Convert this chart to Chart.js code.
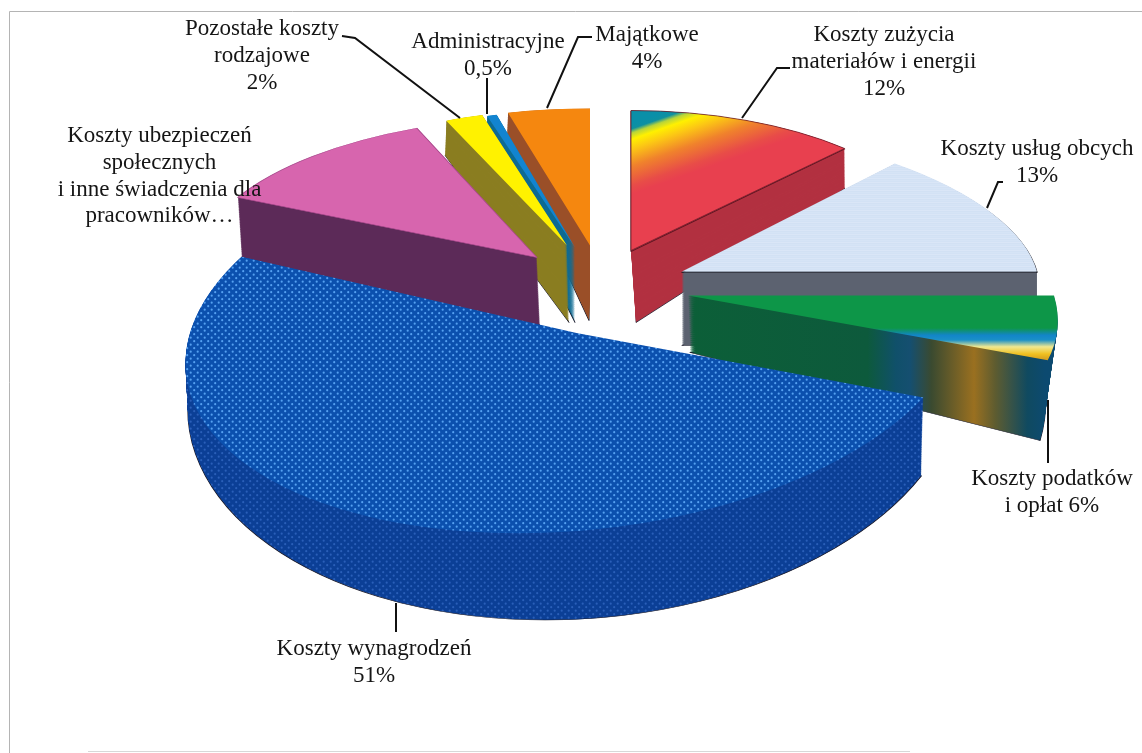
<!DOCTYPE html>
<html>
<head>
  <meta charset="utf-8">
  <title>Struktura kosztów</title>
  <style>
    html, body { margin: 0; background: #fff; }
    canvas { display: block; }
  </style>
</head>
<body>
<canvas id="myChart" width="1142" height="753"></canvas>
<script src="https://cdn.jsdelivr.net/npm/chart.js@4"></script>
<script>
  // clockwise from 12 o'clock
  const categories = ['Koszty zużycia materiałów i energii', 'Koszty usług obcych', 'Koszty podatków i opłat',
    'Koszty wynagrodzeń', 'Koszty ubezpieczeń społecznych i inne świadczenia dla pracowników',
    'Pozostałe koszty rodzajowe', 'Administracyjne', 'Majątkowe'];
  const shares = [12, 13, 6, 51, 11.5, 2, 0.5, 4];
  const baseColors = ['#e8404f', '#d5e3f5', '#0d9648', '#0b50ae', '#d765ae', '#fff200', '#1284d0', '#f5870f'];

  // fake 3D: how far each slice is pulled from the pie centre and how wide/tall it is drawn,
  // for its top face and for its bottom face
  const topShiftX = [60, 111, 117, 5.5, -34, -4, 4, 19];
  const topShiftY = [-126, -105, -81, -43.5, -119, -131, -129, -131];
  const topWidth = [312, 355, 366, 389, 338, 304, 315, 330];
  const topHeight = [140, 148, 176, 200, 141, 136, 137, 137];
  const topSkew = [0, 0.28, 0.3, -0.2, -0.109, 0, 0, 0];
  const topTilt = [0, 0, 0, -0.025, 0, 0, 0, 0];
  const bottomShiftX = [65, 111, 119, 3, -31, -2, 4, 18];
  const bottomShiftY = [-54, -31, -24, 15.5, -51, -54, -54, -56];
  const bottomWidth = [305, 355, 349, 385, 338, 312, 315, 330];
  const bottomHeight = [184, 148, 239, 228, 160, 182, 182, 182];
  const bottomSkew = [0, 0.28, 0.29, -0.126, -0.109, 0, 0, 0];
  const drawOrder = [7, 6, 5, 4, 0, 1, 2, 3];
  const lowerEdge = ['#5a1420', '#15151c', null, null, null, null, null, null];
  const topEdge = ['#6a1a28', null, null, null, '#a8488c', null, null, null];

  // text blocks, centred on x, first baseline y
  const labelLines = [
    ['Koszty zużycia', 'materiałów i energii', '12%'],
    ['Koszty usług obcych', '13%'],
    ['Koszty podatków', 'i opłat 6%'],
    ['Koszty wynagrodzeń', '51%'],
    ['Koszty ubezpieczeń', 'społecznych', 'i inne świadczenia dla', 'pracowników…'],
    ['Pozostałe koszty', 'rodzajowe', '2%'],
    ['Administracyjne', '0,5%'],
    ['Majątkowe', '4%']
  ];
  const labelX = [884, 1037, 1052, 374, 159.5, 262, 488, 647];
  const labelY = [41, 155, 485, 655, 142, 35, 48, 41];
  const labelGap = 26.8;
  const leaders = [
    [[790, 68], [777, 68], [742, 118]],
    [[1003, 182], [998, 182], [987, 208]],
    [[1048, 400], [1048, 463]],
    [[396, 603], [396, 632]],
    [[342, 36], [355, 38], [460, 118]],
    [[487, 78], [487, 114]],
    [[592, 37], [578, 37], [547, 108]]
  ];

  function offscreen(w, h, paint) {
    const c = document.createElement('canvas');
    c.width = w;
    c.height = h;
    paint(c.getContext('2d'));
    return c;
  }

  function linear(g, x0, y0, x1, y1, stops) {
    const grad = g.createLinearGradient(x0, y0, x1, y1);
    stops.forEach(s => grad.addColorStop(s[0], s[1]));
    g.fillStyle = grad;
    g.fillRect(0, 0, 1142, 753);
  }

  function dots(base, dot) {
    return (g) => {
      const tile = offscreen(7, 7, t => {
        t.fillStyle = base;
        t.fillRect(0, 0, 7, 7);
        t.fillStyle = dot;
        t.beginPath();
        t.arc(1.7, 1.7, 1.1, 0, Math.PI * 2);
        t.arc(5.2, 5.2, 1.1, 0, Math.PI * 2);
        t.fill();
      });
      g.fillStyle = g.createPattern(tile, 'repeat');
      g.fillRect(0, 0, 1142, 753);
    };
  }

  function stripes(colors) {
    return (g) => {
      const tile = offscreen(18, colors.length, t => {
        colors.forEach((col, i) => {
          t.fillStyle = col;
          t.fillRect(0, i, 18, 1);
        });
      });
      g.fillStyle = g.createPattern(tile, 'repeat');
      g.fillRect(0, 0, 1142, 753);
    };
  }

  function solid(col) {
    return (g) => {
      g.fillStyle = col;
      g.fillRect(0, 0, 1142, 753);
    };
  }

  const topPaint = [
    (g) => linear(g, 630, 124.5, 652, 187, [[0, '#0a8fa8'], [0.07, '#0f90a0'], [0.13, '#b8d43a'], [0.22, '#fff000'],
      [0.36, '#fcc814'], [0.6, '#f0822c'], [0.88, '#e84c48'], [1, '#e8404f']]),
    stripes(['#d6e4f6', '#d3e2f5', '#dae6f7', '#d2e1f4']),
    (g) => linear(g, 0, 322, 0, 362, [[0, '#0d9648'], [0.15, '#0d9648'], [0.33, '#1285c8'], [0.45, '#1a90c8'],
      [0.62, '#f0e890'], [0.8, '#f0c020'], [1, '#c89020']]),
    dots('#0b50ae', '#55a0f0'),
    solid('#d765ae'),
    solid('#fff200'),
    solid('#1284d0'),
    solid('#f5870f')
  ];
  const sidePaint = [
    solid('#b23040'),
    solid('#5c6270'),
    (g) => linear(g, 690, 0, 1045, 0, [[0, '#0c5f38'], [0.5, '#0d5a3c'], [0.58, '#10506a'], [0.62, '#154f70'],
      [0.68, '#3a4a30'], [0.8, '#9a7020'], [0.86, '#5e5c30'], [0.95, '#104a60'], [1, '#0c4a70']]),
    dots('#0b3f96', '#2a5fb8'),
    solid('#5c2a58'),
    solid('#8a7d20'),
    solid('#0d6a92'),
    solid('#9a4f28')
  ];

  const pie3d = {
    id: 'pie3d',
    beforeDatasetsDraw(chart) {
      const ctx = chart.ctx;
      const arcs = chart.getDatasetMeta(0).data;

      const place = (arc, i, t) => {
        const lerp = (a, b) => a[i] + (b[i] - a[i]) * t;
        ctx.translate(arc.x + lerp(topShiftX, bottomShiftX), arc.y + lerp(topShiftY, bottomShiftY));
        ctx.transform(1, topTilt[i] * (1 - t), lerp(topSkew, bottomSkew), 1, 0, 0);
        ctx.scale(lerp(topWidth, bottomWidth) / arc.outerRadius, lerp(topHeight, bottomHeight) / arc.outerRadius);
        ctx.translate(-arc.x, -arc.y);
      };

      const paintArc = (arc, i, t, fill, edge, edgeWidth) => {
        ctx.save();
        place(arc, i, t);
        fill.setTransform(ctx.getTransform().inverse()); // keep the fill fixed on the page
        arc.options = {
          backgroundColor: fill, borderColor: edge || 'rgba(0,0,0,0)', borderWidth: edge ? edgeWidth : 0, offset: 0, spacing: 0,
          borderAlign: 'center', borderRadius: 0, circular: true, borderJoinStyle: 'round'
        };
        arc.draw(ctx);
        ctx.restore();
      };

      drawOrder.forEach(i => {
        const arc = arcs[i];
        const side = ctx.createPattern(offscreen(1142, 753, sidePaint[i]), 'no-repeat');
        const top = ctx.createPattern(offscreen(1142, 753, topPaint[i]), 'no-repeat');
        const steps = Math.ceil(Math.abs(bottomShiftY[i] - topShiftY[i]) * 1.5);
        paintArc(arc, i, 1, side, '#1a1a2a', 1.2);
        for (let s = steps - 1; s > 0; s--) {
          paintArc(arc, i, s / steps, side, null, 0);
        }
        if (lowerEdge[i]) {
          paintArc(arc, i, 1.5 / steps, side, lowerEdge[i], 1.6);
        }
        paintArc(arc, i, 0, top, topEdge[i], 1.2);
      });
      return false;
    },
    afterDraw(chart) {
      const ctx = chart.ctx;
      ctx.save();
      // scanned frame: only the top and left survive clearly
      ctx.strokeStyle = '#b4b4b4';
      ctx.lineWidth = 1;
      ctx.beginPath();
      ctx.moveTo(9.5, 753);
      ctx.lineTo(9.5, 11.5);
      ctx.lineTo(1142, 11.5);
      ctx.stroke();
      ctx.strokeStyle = '#d8d8d8';
      ctx.beginPath();
      ctx.moveTo(88, 751.5);
      ctx.lineTo(910, 751.5);
      ctx.stroke();

      ctx.strokeStyle = '#111';
      ctx.lineWidth = 2;
      leaders.forEach(line => {
        ctx.beginPath();
        line.forEach((p, n) => n ? ctx.lineTo(p[0], p[1]) : ctx.moveTo(p[0], p[1]));
        ctx.stroke();
      });

      ctx.fillStyle = '#151515';
      ctx.font = '23px "Liberation Serif"';
      ctx.textAlign = 'center';
      labelLines.forEach((lines, i) => {
        lines.forEach((text, n) => ctx.fillText(text, labelX[i], labelY[i] + n * labelGap));
      });
      ctx.restore();
    }
  };

  new Chart(document.getElementById('myChart').getContext('2d'), {
    type: 'pie',
    data: {
      labels: categories,
      datasets: [{ data: shares, backgroundColor: baseColors, borderWidth: 0 }]
    },
    options: {
      responsive: false,
      animation: false,
      layout: { padding: 0 },
      plugins: { legend: { display: false }, tooltip: { enabled: false } }
    },
    plugins: [pie3d]
  });
</script>
</body>
</html>
